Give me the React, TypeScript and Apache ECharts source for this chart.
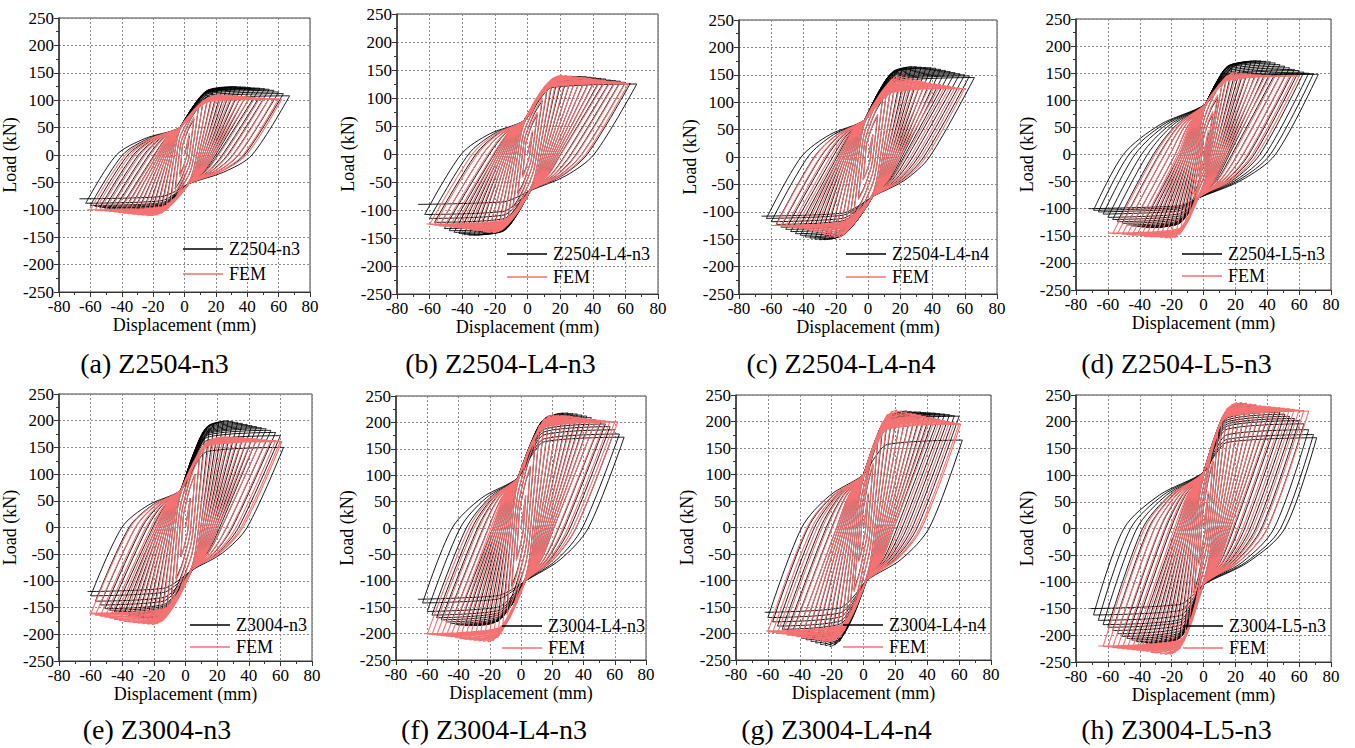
import { useEffect, useRef } from 'react';
import * as echarts from 'echarts';

const FONT = 'Liberation Serif';
const TEST_COLOR = '#000000';
const FEM_COLOR = '#F47272';

// Specimens, in panel order (a)–(h)
const specimenNames = [
  'Z2504-n3', 'Z2504-L4-n3', 'Z2504-L4-n4', 'Z2504-L5-n3',
  'Z3004-n3', 'Z3004-L4-n3', 'Z3004-L4-n4', 'Z3004-L5-n3',
];
const panelLetters = ['a', 'b', 'c', 'd', 'e', 'f', 'g', 'h'];

// Axis ranges (mm, kN)
const dispMin = -80, dispMax = 80, dispStep = 20;
const loadMin = -250, loadMax = 250, loadStep = 50;

// ---- Peak displacement (mm) and peak loads (kN) of each loading level ----
// (a) Z2504-n3
const aTestAmp = [3, 6, 9, 12, 15, 18, 21, 24, 27, 30, 33, 36, 39, 42, 45, 48, 51, 54, 57, 60, 63, 67];
const aTestPos = [35, 65, 88, 100, 108, 114, 118, 121, 123, 124, 125, 124, 124, 123, 122, 122, 121, 120, 118, 115, 112, 108];
const aTestNeg = [-35, -62, -82, -92, -98, -102, -104, -105, -106, -105, -105, -104, -103, -102, -100, -99, -97, -96, -94, -92, -88, -80];
const aFemAmp = [3, 6, 9, 12, 15, 18, 21, 24, 27, 30, 33, 36, 39, 42, 45, 48, 51, 54, 57, 60, 62];
const aFemPos = [40, 70, 90, 100, 105, 108, 110, 110, 109, 109, 108, 107, 107, 106, 105, 104, 104, 103, 103, 102, 102];
const aFemNeg = [-40, -70, -92, -102, -107, -110, -111, -111, -110, -109, -108, -107, -106, -105, -104, -103, -102, -101, -101, -100, -100];

// (b) Z2504-L4-n3
const bTestAmp = [3, 6, 9, 12, 15, 18, 21, 24, 27, 30, 33, 36, 39, 42, 45, 48, 51, 54, 57, 60, 63, 67];
const bTestPos = [38, 70, 95, 115, 125, 130, 133, 135, 137, 138, 138, 138, 137, 136, 135, 134, 132, 131, 130, 128, 126, 125];
const bTestNeg = [-38, -70, -95, -115, -127, -134, -138, -141, -143, -144, -145, -145, -144, -142, -140, -137, -133, -128, -122, -115, -108, -90];
const bFemAmp = [3, 6, 9, 12, 15, 18, 21, 24, 27, 30, 33, 36, 39, 42, 45, 48, 51, 54, 57, 60, 62];
const bFemPos = [42, 75, 100, 120, 132, 139, 141, 140, 139, 138, 137, 136, 135, 134, 132, 131, 130, 129, 128, 127, 126];
const bFemNeg = [-42, -75, -100, -120, -132, -139, -141, -140, -139, -137, -136, -134, -133, -132, -131, -130, -129, -128, -127, -126, -125];

// (c) Z2504-L4-n4
const cTestAmp = [3, 6, 9, 12, 15, 18, 21, 24, 27, 30, 33, 36, 39, 42, 45, 48, 51, 54, 57, 60, 63, 66];
const cTestPos = [40, 75, 105, 130, 145, 155, 160, 163, 165, 165, 164, 163, 163, 162, 160, 158, 156, 154, 152, 150, 148, 145];
const cTestNeg = [-40, -75, -105, -128, -140, -146, -149, -150, -151, -151, -150, -148, -146, -143, -140, -136, -132, -128, -123, -118, -112, -108];
const cFemAmp = [3, 6, 9, 12, 15, 18, 21, 24, 27, 30, 33, 36, 39, 42, 45, 48, 51, 54, 57, 60];
const cFemPos = [42, 78, 108, 130, 143, 150, 148, 146, 143, 141, 139, 137, 135, 133, 132, 130, 129, 127, 126, 125];
const cFemNeg = [-42, -78, -108, -130, -142, -148, -147, -145, -142, -139, -136, -134, -132, -130, -129, -128, -127, -126, -125, -125];

// (d) Z2504-L5-n3
const dTestAmp = [3, 6, 9, 12, 15, 18, 21, 24, 27, 30, 33, 36, 39, 42, 45, 48, 51, 54, 57, 60, 63, 66, 69, 72];
const dTestPos = [40, 75, 105, 135, 150, 160, 165, 168, 171, 172, 173, 173, 172, 171, 169, 166, 163, 160, 157, 155, 152, 150, 149, 148];
const dTestNeg = [-40, -72, -95, -112, -122, -128, -131, -133, -134, -135, -135, -135, -134, -133, -132, -130, -127, -124, -120, -116, -110, -106, -103, -100];
const dFemAmp = [3, 6, 9, 12, 15, 18, 21, 24, 27, 30, 33, 36, 39, 42, 45, 48, 51, 54, 57, 60];
const dFemPos = [45, 80, 110, 135, 146, 151, 152, 150, 149, 148, 147, 147, 146, 146, 145, 145, 145, 145, 145, 145];
const dFemNeg = [-42, -78, -110, -135, -148, -154, -155, -154, -153, -152, -152, -151, -150, -149, -149, -148, -147, -146, -146, -145];

// (e) Z3004-n3
const eTestAmp = [3, 6, 9, 12, 15, 18, 21, 24, 27, 30, 33, 36, 39, 42, 45, 48, 51, 54, 57, 60, 62];
const eTestPos = [55, 100, 140, 170, 185, 193, 197, 199, 200, 199, 197, 195, 193, 191, 189, 187, 185, 182, 178, 172, 150];
const eTestNeg = [-55, -95, -130, -155, -163, -167, -169, -170, -170, -169, -167, -165, -163, -161, -158, -155, -152, -145, -138, -128, -120];
const eFemAmp = [3, 6, 9, 12, 15, 18, 21, 24, 27, 30, 33, 36, 39, 42, 45, 48, 51, 54, 57, 60, 61];
const eFemPos = [55, 100, 135, 155, 163, 167, 169, 170, 170, 169, 169, 168, 167, 167, 166, 165, 164, 163, 163, 162, 161];
const eFemNeg = [-55, -100, -140, -165, -176, -181, -182, -181, -180, -179, -178, -177, -176, -174, -172, -170, -168, -166, -164, -162, -160];

// (f) Z3004-L4-n3
const fTestAmp = [3, 6, 9, 12, 15, 18, 21, 24, 27, 30, 33, 36, 39, 42, 45, 48, 51, 54, 57, 60, 63, 66];
const fTestPos = [60, 115, 160, 190, 203, 210, 214, 216, 218, 218, 217, 216, 214, 212, 209, 205, 201, 197, 192, 186, 178, 172];
const fTestNeg = [-58, -110, -150, -170, -178, -181, -183, -184, -185, -185, -185, -185, -184, -183, -181, -178, -174, -170, -165, -158, -142, -135];
const fFemAmp = [3, 6, 9, 12, 15, 18, 21, 24, 27, 30, 33, 36, 39, 42, 45, 48, 51, 54, 57, 60, 62];
const fFemPos = [62, 118, 165, 195, 208, 214, 215, 214, 213, 212, 211, 210, 208, 207, 206, 205, 204, 203, 202, 201, 201];
const fFemNeg = [-62, -118, -165, -195, -208, -214, -216, -215, -214, -213, -212, -211, -209, -208, -206, -205, -204, -203, -202, -201, -200];

// (g) Z3004-L4-n4
const gTestAmp = [3, 6, 9, 12, 15, 18, 21, 24, 27, 30, 33, 36, 39, 42, 45, 48, 51, 54, 57, 60, 62];
const gTestPos = [62, 118, 165, 190, 205, 213, 217, 219, 220, 219, 218, 218, 217, 216, 216, 215, 214, 213, 211, 210, 165];
const gTestNeg = [-62, -118, -170, -200, -215, -222, -225, -223, -221, -218, -215, -212, -209, -205, -201, -197, -192, -186, -178, -170, -160];
const gFemAmp = [3, 6, 9, 12, 15, 18, 21, 24, 27, 30, 33, 36, 39, 42, 45, 48, 51, 54, 57, 60, 61];
const gFemPos = [65, 122, 170, 200, 214, 220, 222, 220, 218, 216, 214, 212, 210, 208, 206, 204, 202, 200, 198, 196, 195];
const gFemNeg = [-65, -122, -170, -195, -208, -214, -215, -215, -214, -212, -210, -209, -207, -206, -204, -203, -201, -200, -198, -197, -195];

// (h) Z3004-L5-n3
const hTestAmp = [3, 6, 9, 12, 15, 18, 21, 24, 27, 30, 33, 36, 39, 42, 45, 48, 51, 54, 57, 60, 63, 66, 69, 71];
const hTestPos = [65, 125, 175, 205, 222, 230, 234, 235, 234, 232, 230, 228, 226, 224, 221, 218, 214, 210, 206, 202, 196, 185, 176, 170];
const hTestNeg = [-65, -120, -165, -190, -203, -210, -213, -215, -216, -216, -216, -215, -214, -212, -209, -206, -202, -197, -191, -185, -180, -172, -162, -150];
const hFemAmp = [3, 6, 9, 12, 15, 18, 21, 24, 27, 30, 33, 36, 39, 42, 45, 48, 51, 54, 57, 60, 63, 66];
const hFemPos = [70, 130, 180, 210, 226, 233, 236, 236, 235, 233, 232, 230, 229, 228, 227, 226, 225, 224, 223, 222, 221, 220];
const hFemNeg = [-70, -130, -180, -210, -226, -233, -236, -236, -235, -233, -232, -230, -229, -228, -227, -226, -225, -224, -223, -222, -221, -220];

// Pinching points (displacement, load) where reloading branches cross,
// knee displacement and unloading stiffness (kN/mm) of each specimen
const pinchUp = [[-3, 50], [-2, 60], [-2, 68], [1, 92], [-3, 70], [-2, 95], [0, 100], [0, 105]];
const pinchDown = [[3, -52], [2, -65], [3, -72], [-3, -80], [4, -80], [3, -100], [2, -100], [0, -105]];
const kneeDisp = [15, 15, 16, 16, 14, 15, 15, 15];
const unloadStiffness = [4.5, 4.8, 5.2, 5.5, 6.5, 7.5, 8, 8.5];

const testData = [
  [aTestAmp, aTestPos, aTestNeg], [bTestAmp, bTestPos, bTestNeg],
  [cTestAmp, cTestPos, cTestNeg], [dTestAmp, dTestPos, dTestNeg],
  [eTestAmp, eTestPos, eTestNeg], [fTestAmp, fTestPos, fTestNeg],
  [gTestAmp, gTestPos, gTestNeg], [hTestAmp, hTestPos, hTestNeg],
];
const femData = [
  [aFemAmp, aFemPos, aFemNeg], [bFemAmp, bFemPos, bFemNeg],
  [cFemAmp, cFemPos, cFemNeg], [dFemAmp, dFemPos, dFemNeg],
  [eFemAmp, eFemPos, eFemNeg], [fFemAmp, fFemPos, fFemNeg],
  [gFemAmp, gFemPos, gFemNeg], [hFemAmp, hFemPos, hFemNeg],
];

// ---- Layout ----
const gridRects = [
  [53, 18, 257, 274], [397, 14, 261, 280], [739, 20, 258, 274], [1076, 19, 255, 271],
  [56, 394, 256, 267], [396, 396, 250, 264], [736, 395, 255, 265], [1076, 395, 255, 267],
];
// legend: left edge of line sample, centre y of first and second row
const legendPos = [
  [183, 249, 274], [507, 254, 277], [846, 254, 277], [1182, 254, 276],
  [190, 625, 647], [502, 626, 648], [843, 625, 647], [1183, 626, 648],
];
const captionY = [363, 729];

type Pt = [number, number];

// Traces the load path through every level: each level is pushed to its
// positive peak, then back to its negative peak, passing the pinching points.
function loadPath(amp: number[], pos: number[], neg: number[], idx: number): Pt[] {
  const [ux, uy] = pinchUp[idx];
  const [dx, dy] = pinchDown[idx];
  const knee = kneeDisp[idx];
  const k = unloadStiffness[idx];
  const path: Pt[] = [[0, 0]];
  let prevA = 0;
  let prevN = 0;
  for (let i = 0; i < amp.length; i++) {
    const A = amp[i];
    const P = pos[i];
    const N = neg[i];
    const s = Math.min(1, A / 16);
    // towards the positive peak
    if (prevA > 0) {
      const px = ux * s, py = uy * s;
      const x0 = -prevA + Math.min(Math.abs(prevN) / k, 0.6 * (prevA + px));
      path.push([x0, 0]);
      path.push([x0 + 0.45 * (px - x0), 0.6 * py]);
      path.push([px, py]);
      if (A > knee + 4) {
        const kp = P * 0.95;
        path.push([px + 0.5 * (knee - px), py + 0.6 * (kp - py)]);
        path.push([knee, kp]);
      } else {
        path.push([px + 0.5 * (A - px), py + 0.6 * (P - py)]);
      }
    }
    path.push([A, P]);
    // back towards the negative peak
    {
      const px = dx * s, py = dy * s;
      const x0 = A - Math.min(P / k, 0.6 * (A - px));
      path.push([x0, 0]);
      path.push([x0 + 0.45 * (px - x0), 0.6 * py]);
      path.push([px, py]);
      if (A > knee + 4) {
        const kn = N * 0.95;
        path.push([px + 0.5 * (-knee - px), py + 0.6 * (kn - py)]);
        path.push([-knee, kn]);
      } else {
        path.push([px + 0.5 * (-A - px), py + 0.6 * (N - py)]);
      }
      path.push([-A, N]);
    }
    prevA = A;
    prevN = N;
  }
  return path;
}

function buildOption() {
  const grid: any[] = [];
  const xAxis: any[] = [];
  const yAxis: any[] = [];
  const series: any[] = [];
  const legend: any[] = [];
  const graphic: any[] = [];

  const labelStyle = { fontFamily: FONT, fontSize: 17, color: '#000', lineHeight: 15 };
  const nameStyle = { fontFamily: FONT, fontSize: 18, color: '#000' };
  const split = { show: true, lineStyle: { color: '#8a8a8a', type: [2, 2], width: 1 } };

  specimenNames.forEach((name, i) => {
    const [l, t, w, h] = gridRects[i];
    grid.push({
      left: l, top: t, width: w, height: h,
      show: true, borderColor: '#444', borderWidth: 1, backgroundColor: 'transparent',
    });
    xAxis.push({
      type: 'value', gridIndex: i, min: dispMin, max: dispMax, interval: dispStep,
      name: 'Displacement (mm)', nameLocation: 'middle', nameGap: 23, nameTextStyle: nameStyle,
      axisLine: { show: true, onZero: false, lineStyle: { color: '#333', width: 1.2 } },
      axisTick: { show: true, inside: false, length: 5, lineStyle: { color: '#333' } },
      minorTick: { show: true, splitNumber: 2, length: 3, lineStyle: { color: '#333' } },
      axisLabel: { ...labelStyle, margin: 7 },
      splitLine: split,
    });
    yAxis.push({
      type: 'value', gridIndex: i, min: loadMin, max: loadMax, interval: loadStep,
      name: 'Load (kN)', nameLocation: 'middle', nameGap: 30, nameTextStyle: nameStyle,
      axisLine: { show: true, onZero: false, lineStyle: { color: '#333', width: 1.5 } },
      axisTick: { show: true, inside: false, length: 5, lineStyle: { color: '#333' } },
      minorTick: { show: true, splitNumber: 2, length: 3, lineStyle: { color: '#333' } },
      axisLabel: { ...labelStyle, margin: 5 },
      splitLine: split,
    });
    const [ta, tp, tn] = testData[i];
    const [fa, fp, fn] = femData[i];
    series.push({
      type: 'line', name, xAxisIndex: i, yAxisIndex: i,
      data: loadPath(ta, tp, tn, i), showSymbol: false, symbol: 'none', smooth: 0.3,
      itemStyle: { color: TEST_COLOR }, lineStyle: { color: TEST_COLOR, width: 0.9 },
      clip: true, z: 2,
    });
    series.push({
      type: 'line', name: 'FEM', xAxisIndex: i, yAxisIndex: i,
      data: loadPath(fa, fp, fn, i), showSymbol: false, symbol: 'none', smooth: 0.3,
      itemStyle: { color: FEM_COLOR }, lineStyle: { color: FEM_COLOR, width: 1.1 },
      clip: true, z: 3,
    });
    const [ll, c1, c2] = legendPos[i];
    legend.push({
      data: [name, 'FEM'], orient: 'vertical', left: ll, top: c1 - 9, padding: 0,
      itemGap: c2 - c1 - 18, itemWidth: 40, itemHeight: 1.5, icon: 'rect',
      selectedMode: false,
      textStyle: { fontFamily: FONT, fontSize: 18, color: '#000', lineHeight: 18, padding: [0, 0, 0, 1] },
    });
    const cx = l + w / 2 - 27;
    const text = `(${panelLetters[i]}) ${name}`;
    graphic.push({
      type: 'text', x: cx, y: captionY[i < 4 ? 0 : 1],
      style: {
        text, fontFamily: FONT, fontSize: 28, fill: '#000',
        align: 'center', verticalAlign: 'middle', textAlign: 'center', textVerticalAlign: 'middle',
      },
    });
  });

  return {
    animation: false,
    backgroundColor: '#ffffff',
    textStyle: { fontFamily: FONT },
    grid, xAxis, yAxis, series, legend, graphic,
  };
}

export default function App() {
  const ref = useRef<HTMLDivElement>(null);
  useEffect(() => {
    if (!ref.current) return;
    const chart = echarts.init(ref.current, undefined, { renderer: 'svg' });
    chart.setOption(buildOption() as any);
    return () => chart.dispose();
  }, []);
  return (
    <div
      ref={ref}
      style={{ position: 'fixed', left: 0, top: 0, width: 1355, height: 748, background: '#fff' }}
    />
  );
}
